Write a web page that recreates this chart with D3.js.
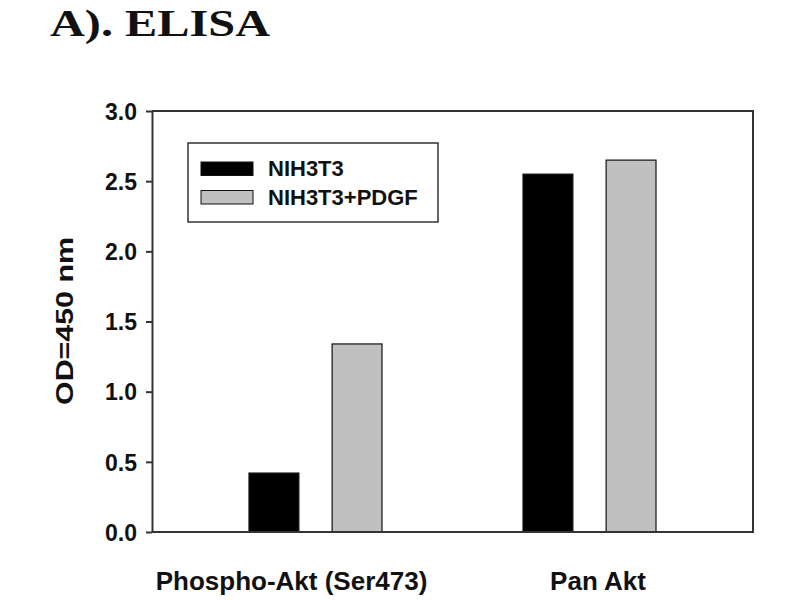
<!DOCTYPE html>
<html>
<head>
<meta charset="utf-8">
<script src="https://cdn.jsdelivr.net/npm/d3@7"></script>
<style>
  html, body { margin: 0; padding: 0; background: #fff; }
  svg { display: block; }
</style>
</head>
<body>
<svg id="chart" width="800" height="600"></svg>
<script>
// ---- data ----
const categories = ["Phospho-Akt (Ser473)", "Pan Akt"];
const seriesNames = ["NIH3T3", "NIH3T3+PDGF"];
const valuesNIH3T3 = [0.42, 2.55];
const valuesPDGF = [1.34, 2.65];
const yTicks = [0.0, 0.5, 1.0, 1.5, 2.0, 2.5, 3.0];
const titleText = "A). ELISA";
const yLabel = "OD=450 nm";

const seriesValues = [valuesNIH3T3, valuesPDGF];
const colors = ["#000000", "#c0c0c0"];

const svg = d3.select("#chart");
const plotLeft = 152, plotRight = 753, plotTop = 111, plotBottom = 532;

const x0 = d3.scaleBand().domain(categories).range([plotLeft, plotRight])
  .paddingInner(0.5146).paddingOuter(0.354);
const x1 = d3.scaleBand().domain(seriesNames).range([0, x0.bandwidth()])
  .paddingInner(0.4).paddingOuter(0);
const y = d3.scaleLinear().domain([0, 3]).range([plotBottom, plotTop]);

// title
svg.append("text")
  .attr("x", 50).attr("y", 36)
  .attr("font-family", "'Liberation Serif', 'Times New Roman', serif")
  .attr("font-weight", "bold")
  .attr("font-size", 38)
  .attr("textLength", 220)
  .attr("lengthAdjust", "spacingAndGlyphs")
  .attr("fill", "#111")
  .text(titleText);

// bars
const rows = [];
categories.forEach((c, i) => {
  seriesNames.forEach((s, j) => rows.push({ cat: c, ser: s, val: seriesValues[j][i], j }));
});
svg.append("g").selectAll("rect").data(rows).join("rect")
  .attr("x", d => x0(d.cat) + x1(d.ser))
  .attr("y", d => y(d.val))
  .attr("width", x1.bandwidth())
  .attr("height", d => y(0) - y(d.val))
  .attr("fill", d => colors[d.j])
  .attr("stroke", "#111")
  .attr("stroke-width", 1.2);

// frame (top/right/bottom)
svg.append("path")
  .attr("d", `M${plotLeft},${plotTop}H${plotRight}V${plotBottom}H${plotLeft}`)
  .attr("fill", "none").attr("stroke", "#333").attr("stroke-width", 2);

// y axis
const yAxis = svg.append("g").attr("transform", `translate(${plotLeft},0)`)
  .call(d3.axisLeft(y).tickValues(yTicks).tickFormat(d3.format(".1f"))
    .tickSize(6).tickSizeOuter(0).tickPadding(9));
yAxis.select(".domain").attr("stroke", "#333").attr("stroke-width", 2);
yAxis.selectAll(".tick line").attr("stroke", "#333").attr("stroke-width", 2);
yAxis.selectAll(".tick text")
  .attr("font-family", "'Liberation Sans', Arial, sans-serif")
  .attr("font-weight", "bold").attr("font-size", 23).attr("fill", "#111")
  .attr("dy", "0.36em");

// y label
svg.append("text")
  .attr("transform", `translate(73,${(237 + 405) / 2}) rotate(-90)`)
  .attr("text-anchor", "middle")
  .attr("font-family", "'Liberation Sans', Arial, sans-serif")
  .attr("font-weight", "bold").attr("font-size", 23).attr("fill", "#111")
  .attr("textLength", 168).attr("lengthAdjust", "spacingAndGlyphs")
  .text(yLabel);

// x category labels
const labelShift = [-24, 8.5];
svg.append("g").selectAll("text").data(categories).join("text")
  .attr("x", (d, i) => x0(d) + x0.bandwidth() / 2 + labelShift[i])
  .attr("y", 590)
  .attr("text-anchor", "middle")
  .attr("font-family", "'Liberation Sans', Arial, sans-serif")
  .attr("font-weight", "bold").attr("font-size", 26).attr("fill", "#111")
  .text(d => d);

// legend
const lg = svg.append("g");
lg.append("rect").attr("x", 188).attr("y", 143).attr("width", 250).attr("height", 79)
  .attr("fill", "#fff").attr("stroke", "#333").attr("stroke-width", 1.5);
const items = lg.selectAll("g.item").data(seriesNames).join("g")
  .attr("transform", (d, i) => `translate(0,${i * 28.5})`);
items.append("rect").attr("x", 201).attr("y", 162).attr("width", 52).attr("height", 13.5)
  .attr("fill", (d, i) => colors[i]).attr("stroke", "#111").attr("stroke-width", 1);
items.append("text").attr("x", 268).attr("y", 176)
  .attr("font-family", "'Liberation Sans', Arial, sans-serif")
  .attr("font-weight", "bold").attr("font-size", 22).attr("fill", "#111")
  .text(d => d);
</script>
</body>
</html>
